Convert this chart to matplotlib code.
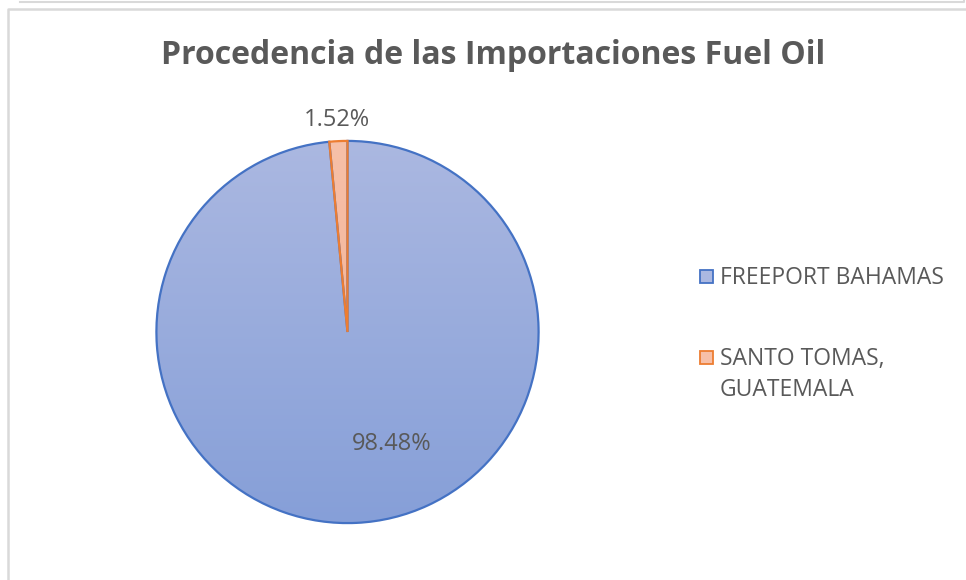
import numpy as np
import matplotlib
matplotlib.use('Agg')
import matplotlib.pyplot as plt
from matplotlib.lines import Line2D

plt.rcParams['font.family'] = ['Open Sans', 'DejaVu Sans']

labels = ['FREEPORT BAHAMAS', 'SANTO TOMAS,\nGUATEMALA']
shares = [98.48, 1.52]
pct_text = ['98.48%', '1.52%']

W, H = 966, 580
GRAY = '#595959'
EDGE = ['#4472c4', '#ed7d31']
GRAD = [('#abb8e1', '#869fd8'), ('#f7c0a8', '#f2ad90')]

fig = plt.figure(figsize=(W / 100, H / 100), dpi=100)

# chart frames (previous chart bottom edge + this chart border)
def fx(x): return x / W
def fy(y): return 1 - y / H
fig.add_artist(Line2D([fx(20), fx(964), fx(964)], [fy(2), fy(2), fy(-2)], color='#d9d9d9', lw=1.5))
fig.add_artist(Line2D([fx(8), fx(8), fx(970)], [fy(590), fy(8.5), fy(8.5)], color='#d9d9d9', lw=1.8))

fig.text(fx(493), fy(55), 'Procedencia de las Importaciones Fuel Oil', ha='center', va='center',
         fontsize=23, fontweight='bold', color=GRAY)

cx, cy, r = 347.5, 332, 193
ax = fig.add_axes([fx(cx - r), fy(cy + r), 2 * r / W, 2 * r / H])
wedges, texts = ax.pie(shares, startangle=90, counterclock=False, radius=1,
                       wedgeprops=dict(linewidth=1.6))
grad = np.linspace(0, 1, 256).reshape(-1, 1)
for w, ec, (c0, c1) in zip(wedges, EDGE, GRAD):
    w.set_facecolor('none')
    w.set_edgecolor(ec)
    w.set_zorder(3)
    cmap = matplotlib.colors.LinearSegmentedColormap.from_list('g', [c0, c1])
    im = ax.imshow(grad, extent=[-1, 1, -1, 1], cmap=cmap, origin='upper', aspect='auto', zorder=2)
    im.set_clip_path(w)

ax.text(0.23, -0.585, pct_text[0], ha='center', va='center', fontsize=17, color=GRAY, zorder=5)
ax.text(-0.054, 1.109, pct_text[1], ha='center', va='center', fontsize=17, color=GRAY, zorder=5)
ax.set_xlim(-1.01, 1.01)
ax.set_ylim(-1.01, 1.01)
ax.axis('off')

# legend: square aligned with first text line
leg_y = [276, 357]
for lab, yy, ec, (c0, c1) in zip(labels, leg_y, EDGE, GRAD):
    fig.add_artist(plt.Rectangle((fx(700), fy(yy + 7)), 13 / W, 13 / H, facecolor=c0,
                                 edgecolor=ec, lw=1.3))
    fig.text(fx(720), fy(yy - 10), lab, ha='left', va='top', fontsize=16.5, color=GRAY,
             linespacing=1.4)

fig.savefig('out.png', dpi=100)
